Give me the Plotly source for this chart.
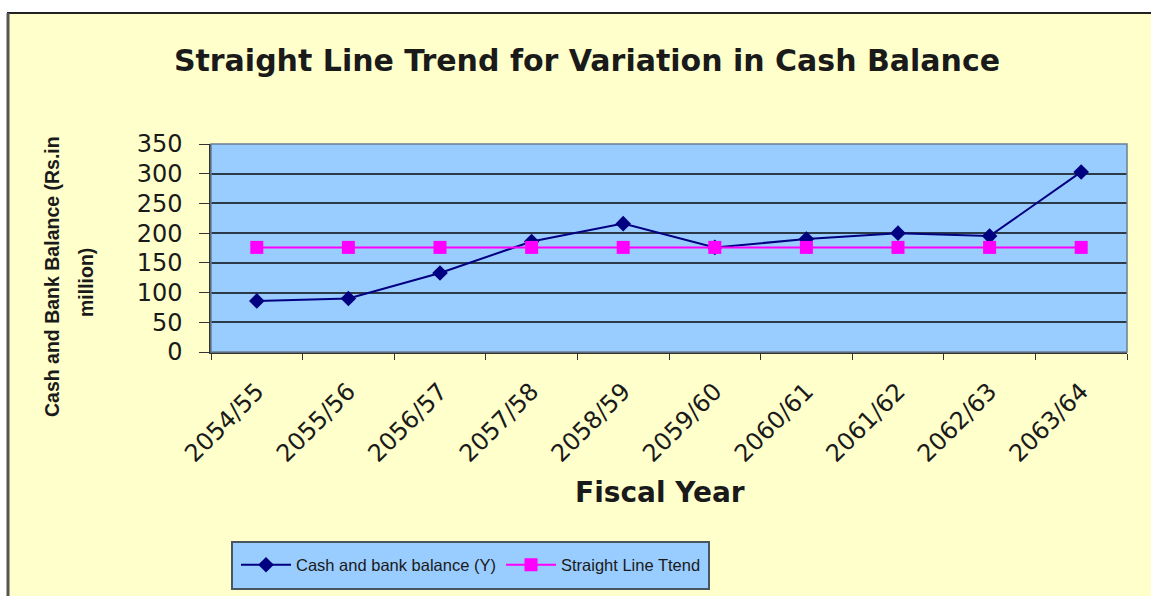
import plotly.graph_objects as go

years = ["2054/55", "2055/56", "2056/57", "2057/58", "2058/59",
         "2059/60", "2060/61", "2061/62", "2062/63", "2063/64"]
cash_balance = [86, 90, 133, 186, 216, 176, 190, 200, 195, 303]
trend = [176, 176, 176, 176, 176, 176, 176, 176, 176, 176]
y_ticks = [0, 50, 100, 150, 200, 250, 300, 350]

W, H = 1151, 596
L, R, T, B = 211, 24, 144, 244
PW, PH = W - L - R, H - T - B

def px(x):
    return (x - L) / PW

def py(y):
    return (H - B - y) / PH

WIDE = "DejaVu Sans, Liberation Sans, sans-serif"
ARIAL = "Liberation Sans, Arial, sans-serif"
TXT = "#1a1a1a"

fig = go.Figure()
fig.add_trace(go.Scatter(
    x=years, y=cash_balance, name="Cash and bank balance (Y)",
    mode="lines+markers",
    line=dict(color="#000080", width=2),
    marker=dict(symbol="diamond", size=12, color="#000080"),
))
fig.add_trace(go.Scatter(
    x=years, y=trend, name="Straight Line Ttend",
    mode="lines+markers",
    line=dict(color="#FF00FF", width=2),
    marker=dict(symbol="square", size=13, color="#FF00FF"),
))

shapes = [
    dict(type="rect", xref="paper", yref="paper", x0=px(0), x1=px(W), y0=py(0), y1=py(12),
         fillcolor="white", line=dict(width=0), layer="below"),
    dict(type="rect", xref="paper", yref="paper", x0=px(0), x1=px(7), y0=py(0), y1=py(H),
         fillcolor="white", line=dict(width=0), layer="below"),
    dict(type="line", xref="paper", yref="paper", x0=px(7), x1=px(W), y0=py(13), y1=py(13),
         line=dict(color="#222222", width=2)),
    dict(type="line", xref="paper", yref="paper", x0=px(8), x1=px(8), y0=py(13), y1=py(H),
         line=dict(color="#555555", width=3)),
    dict(type="rect", xref="paper", yref="paper", x0=0, x1=1, y0=0, y1=1,
         line=dict(color="#6b7f90", width=1.5)),
    dict(type="rect", xref="paper", yref="paper", x0=px(232), x1=px(709), y0=py(542), y1=py(589),
         fillcolor="#99CCFF", line=dict(color="#4a5560", width=2), layer="below"),
]

annotations = [
    dict(text="<b>Cash and Bank Balance (Rs.in</b>", xref="paper", yref="paper",
         x=px(52), y=py(277), textangle=-90, showarrow=False,
         font=dict(family=ARIAL, size=19.5, color=TXT), xanchor="center", yanchor="middle"),
    dict(text="<b>million)</b>", xref="paper", yref="paper",
         x=px(86), y=py(282), textangle=-90, showarrow=False,
         font=dict(family=ARIAL, size=19.5, color=TXT), xanchor="center", yanchor="middle"),
    dict(text="<b>Fiscal Year</b>", xref="paper", yref="paper",
         x=px(660), y=py(492), showarrow=False,
         font=dict(family=WIDE, size=28, color=TXT), xanchor="center", yanchor="middle"),
]

fig.update_layout(
    width=W, height=H,
    margin=dict(l=L, r=R, t=T, b=B),
    paper_bgcolor="#FFFFCC",
    plot_bgcolor="#99CCFF",
    title=dict(text="<b>Straight Line Trend for Variation in Cash Balance</b>",
               xref="container", yref="container", x=587 / W, y=1 - 60 / H,
               xanchor="center", yanchor="middle",
               font=dict(family=WIDE, size=30, color=TXT)),
    font=dict(family=ARIAL, color=TXT),
    xaxis=dict(
        type="category", range=[-0.5, 9.5], tickangle=-45,
        tickson="boundaries", ticks="outside", ticklen=6, tickcolor="#333333",
        ticklabelstandoff=14,
        showgrid=False, showline=True, linecolor="#333333", linewidth=1.5,
        tickfont=dict(family=WIDE, size=24, color=TXT), fixedrange=True,
    ),
    yaxis=dict(
        range=[0, 350], tickvals=y_ticks, ticks="outside", ticklen=10,
        tickcolor="#333333", ticklabelstandoff=12,
        showgrid=True, gridcolor="#2b3a48", gridwidth=1.5,
        showline=True, linecolor="#333333", linewidth=1.5, zeroline=False,
        tickfont=dict(family=WIDE, size=24, color=TXT), fixedrange=True,
    ),
    legend=dict(
        orientation="h", x=px(236), y=py(565), xanchor="left", yanchor="middle",
        bgcolor="rgba(0,0,0,0)", borderwidth=0,
        font=dict(family=ARIAL, size=16.5, color=TXT),
        itemwidth=50, tracegroupgap=0, entrywidth=200,
    ),
    shapes=shapes,
    annotations=annotations,
    showlegend=True,
)

fig.write_html("out.html")
